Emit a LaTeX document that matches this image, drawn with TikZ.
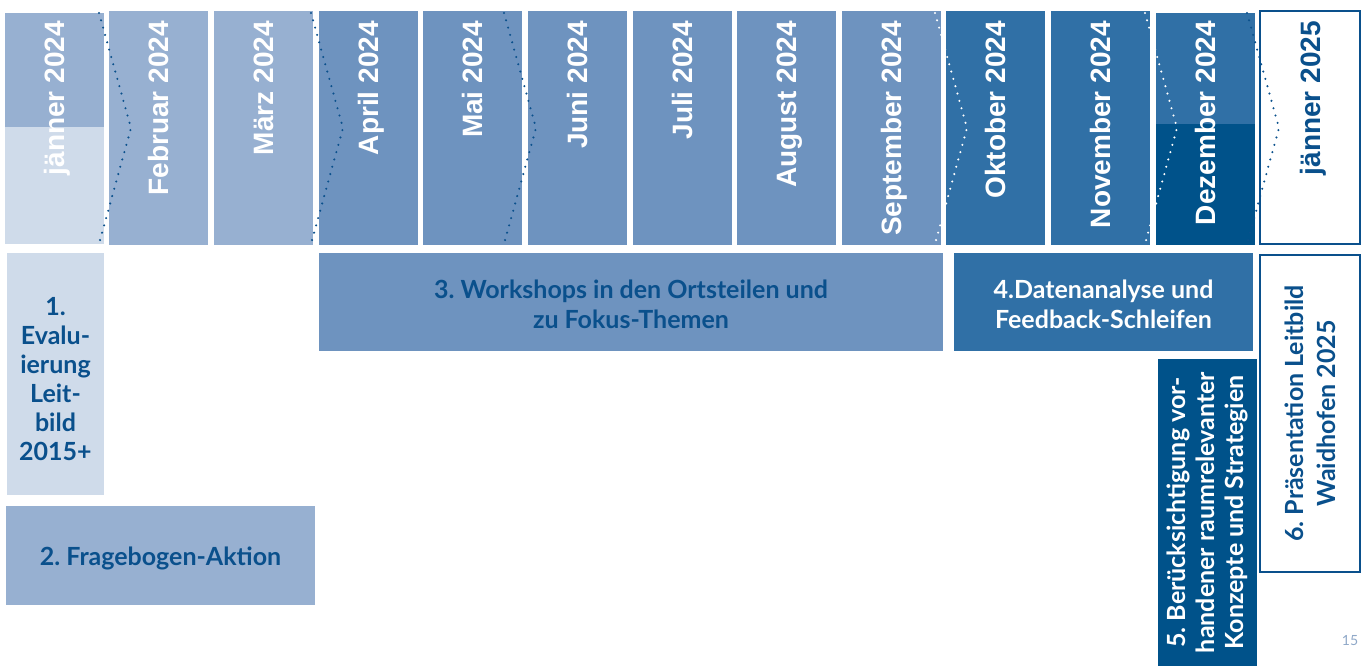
\documentclass[tikz,border=0pt]{standalone}
\usepackage{fontspec}
\setmainfont{Lato}
\newfontfamily\monthfont{Liberation Sans}
\usetikzlibrary{positioning}
\frenchspacing

\definecolor{palest}{HTML}{CFDBEA}
\definecolor{pale}{HTML}{97B0D1}
\definecolor{steel}{HTML}{6E93BF}
\definecolor{deep}{HTML}{3070A6}
\definecolor{navy}{HTML}{00528A}
\definecolor{ink}{HTML}{0A508C}
\definecolor{pagegray}{HTML}{8FA8C8}

\newcommand{\lowerby}[1]{\rule{0pt}{#1}}

\tikzset{
  month/.style={rotate=90, anchor=base east, inner sep=0pt, text=white,
    font=\monthfont\bfseries\fontsize{28}{28}\selectfont},
  phase/.style={inner sep=0pt, align=center, text=ink,
    font=\bfseries\fontsize{25}{30}\selectfont},
  dots/.style={line width=2.3pt, line cap=round, dash pattern=on 0pt off 7.6pt},
}

\begin{document}
\begin{tikzpicture}[x=1pt,y=-1pt]
\useasboundingbox (0,0) rectangle (1363,666);

% month columns
\fill[pale] (5,13) rectangle (104,127);
\fill[palest] (5,127) rectangle (104,244);
\foreach \x/\c in {109/pale,214/pale,319/steel,423/steel,528/steel,633/steel,737/steel,842/steel,946/deep,1051/deep}{\fill[\c] (\x,11) rectangle ++(99,234);}
\fill[deep] (1156,13) rectangle (1255,124);
\fill[navy] (1156,124) rectangle (1255,245);
\draw[ink, line width=2pt] (1260,11) rectangle (1360,244);

% chevrons
\foreach \x/\c in {99/ink,311/ink,504/ink,935/white,1145/white,1247/ink}{\draw[dots,\c] (\x,13) -- (\x+32,128) -- (\x,244);}

% month labels
\foreach \x/\m [count=\i] in {5/jänner 2024,109/Februar 2024,214/März 2024,319/April 2024,423/Mai 2024,528/Juni 2024,633/Juli 2024,737/August 2024,842/September 2024,946/Oktober 2024,1051/November 2024,1156/Dezember 2024}{\node[month] (m\i) at (\x+59.5,21) {\m};}
\node[month, text=ink] (m13) at (1320,21) {jänner 2025};

% phases
\node[phase, fill=palest, minimum width=97pt, minimum height=242pt, font=\bfseries\fontsize{25}{29}\selectfont] (p1) at (55.5,374) {\lowerby{28pt}1.\\Evalu-\\ierung\\Leit-\\bild\\2015+};
\node[phase, fill=pale, minimum width=309pt, minimum height=99pt] (p2) at (160.5,555.5) {\lowerby{24pt}2. Fragebogen-Aktion};
\node[phase, fill=steel, minimum width=624pt, minimum height=98pt] (p3) at (631,302) {\lowerby{23pt}3. Workshops in den Ortsteilen und\\zu Fokus-Themen};
\node[phase, fill=deep, text=white, minimum width=299pt, minimum height=98pt] (p4) at (1103.5,302) {\lowerby{23pt}4.Datenanalyse und\\Feedback-Schleifen};
\node[phase, fill=navy, text=white, rotate=90, minimum width=307pt, minimum height=99pt, font=\bfseries\fontsize{25}{29}\selectfont] (p5) at (1207.5,512.5) {5. Berücksichtigung vor-\\handener raumrelevanter\\Konzepte und Strategien};
\node[phase, draw=ink, line width=2pt, rotate=90, minimum width=317pt, minimum height=100pt, font=\bfseries\fontsize{25}{32}\selectfont] (p6) at (1310,413.5) {6. Präsentation Leitbild\\Waidhofen 2025};

\node[font=\fontsize{14}{14}\selectfont, text=pagegray] (pg) at (1350,641) {15};
\end{tikzpicture}
\end{document}
